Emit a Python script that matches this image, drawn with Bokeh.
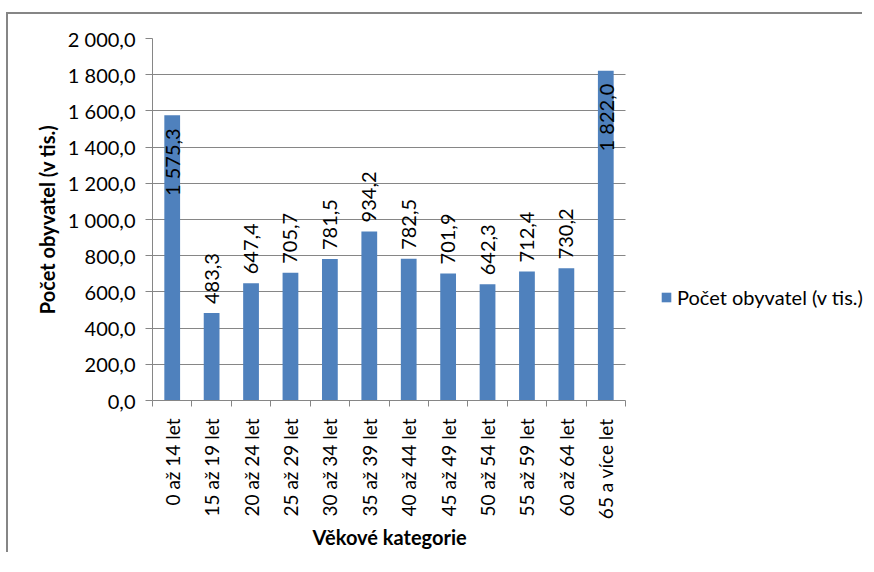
import math
from bokeh.plotting import figure
from bokeh.models import ColumnDataSource, FixedTicker, Range1d, Legend, LegendItem, Title
from bokeh.core.properties import value
from bokeh.embed import file_html
from bokeh.resources import INLINE

categories = ["0 až 14 let", "15 až 19 let", "20 až 24 let", "25 až 29 let",
              "30 až 34 let", "35 až 39 let", "40 až 44 let", "45 až 49 let",
              "50 až 54 let", "55 až 59 let", "60 až 64 let", "65 a více let"]
values = [1575.3, 483.3, 647.4, 705.7, 781.5, 934.2, 782.5, 701.9, 642.3, 712.4, 730.2, 1822.0]
y_ticks = [0, 200, 400, 600, 800, 1000, 1200, 1400, 1600, 1800, 2000]
y_tick_labels = ["0,0", "200,0", "400,0", "600,0", "800,0", "1 000,0", "1 200,0",
                 "1 400,0", "1 600,0", "1 800,0", "2 000,0"]
series_name = "Počet obyvatel (v tis.)"
x_title = "Věkové kategorie"
y_title = "Počet obyvatel (v tis.)"

FONT = "Lato"
GREY = "#868686"
BAR = "#4F81BD"

def fmt(v):
    return f"{v:,.1f}".replace(",", " ").replace(".", ",")

idx = list(range(len(categories)))
labels = [fmt(v) for v in values]
inside = [v > 1500 for v in values]

src = ColumnDataSource(dict(x=idx, top=values, label=labels))
src_out = ColumnDataSource(dict(x=[i for i, f in zip(idx, inside) if not f],
                                y=[v for v, f in zip(values, inside) if not f],
                                label=[l for l, f in zip(labels, inside) if not f]))
src_in = ColumnDataSource(dict(x=[i for i, f in zip(idx, inside) if f],
                               y=[v for v, f in zip(values, inside) if f],
                               label=[l for l, f in zip(labels, inside) if f]))

W, H = 856, 540
LEFT, TOP, BOTTOM = 144, 24, 386
PLOT_W = 473  # pixel width of the category area
x_start = -0.5
x_cat_end = len(categories) - 0.5
x_end = x_start + len(categories) * (W - LEFT) / PLOT_W

p = figure(width=W, height=H, x_range=Range1d(x_start, x_end),
           y_range=Range1d(0, 2000), output_backend="svg", toolbar_location=None,
           min_border_left=LEFT, min_border_right=0, min_border_top=TOP,
           min_border_bottom=H - BOTTOM)
p.outline_line_color = None
p.background_fill_color = "white"
p.border_fill_color = "white"
p.styles = {"border-left": "2px solid #868686", "border-top": "2px solid #868686",
            "margin-left": "6px", "margin-top": "12px"}

bars = p.vbar(x="x", top="top", width=0.4, source=src, fill_color=BAR,
              line_color=None)

p.text(x="x", y="y", text="label", source=src_out, angle=math.pi / 2,
       text_align="left", text_baseline="middle", y_offset=-9,
       text_font=value(FONT), text_font_size="20px", text_color="black")
p.text(x="x", y="y", text="label", source=src_in, angle=math.pi / 2,
       text_align="right", text_baseline="middle", y_offset=13,
       text_font=value(FONT), text_font_size="20px", text_color="black")

# x axis
xa = p.xaxis[0]
xa.bounds = (x_start, x_cat_end)
xa.ticker = FixedTicker(ticks=idx, minor_ticks=[i - 0.5 for i in idx] + [len(idx) - 0.5])
xa.major_label_overrides = {i: c for i, c in zip(idx, categories)}
xa.major_label_orientation = math.pi / 2
xa.major_tick_line_color = None
xa.major_tick_out = 0
xa.major_tick_in = 0
xa.minor_tick_line_color = GREY
xa.minor_tick_out = 6
xa.minor_tick_in = 0
xa.axis_line_color = GREY
xa.major_label_text_font = FONT
xa.major_label_text_font_size = "19px"
xa.major_label_text_color = "black"
xa.major_label_standoff = 12

xt = Title(text=x_title, align="left", offset=160,
           text_font=FONT, text_font_style="bold", text_font_size="20px",
           text_color="black", standoff=0)
p.add_layout(xt, "below")

# y axis
ya = p.yaxis[0]
ya.ticker = FixedTicker(ticks=y_ticks, minor_ticks=[])
ya.major_label_overrides = {t: l for t, l in zip(y_ticks, y_tick_labels)}
ya.major_tick_line_color = GREY
ya.major_tick_out = 7
ya.major_tick_in = 0
ya.axis_line_color = GREY
ya.major_label_text_font = FONT
ya.major_label_text_font_size = "20px"
ya.major_label_text_color = "black"
ya.major_label_standoff = 10
ya.axis_label = y_title
ya.axis_label_text_font = FONT
ya.axis_label_text_font_style = "bold"
ya.axis_label_text_font_size = "20px"
ya.axis_label_text_color = "black"
ya.axis_label_standoff = 6

p.xgrid.grid_line_color = None
p.ygrid.grid_line_color = GREY
p.ygrid.grid_line_width = 1
p.ygrid.cross_bounds = (x_start, x_cat_end)

lg = Legend(items=[LegendItem(label=series_name, renderers=[bars])],
            location=(508, 91))
lg.border_line_color = None
lg.background_fill_alpha = 0
lg.padding = 0
lg.margin = 0
lg.glyph_width = 12
lg.glyph_height = 12
lg.label_standoff = 5
lg.label_text_font = FONT
lg.label_text_font_size = "20px"
lg.label_text_color = "black"
p.add_layout(lg, "center")

open("out.html", "w").write(file_html(p, INLINE))
